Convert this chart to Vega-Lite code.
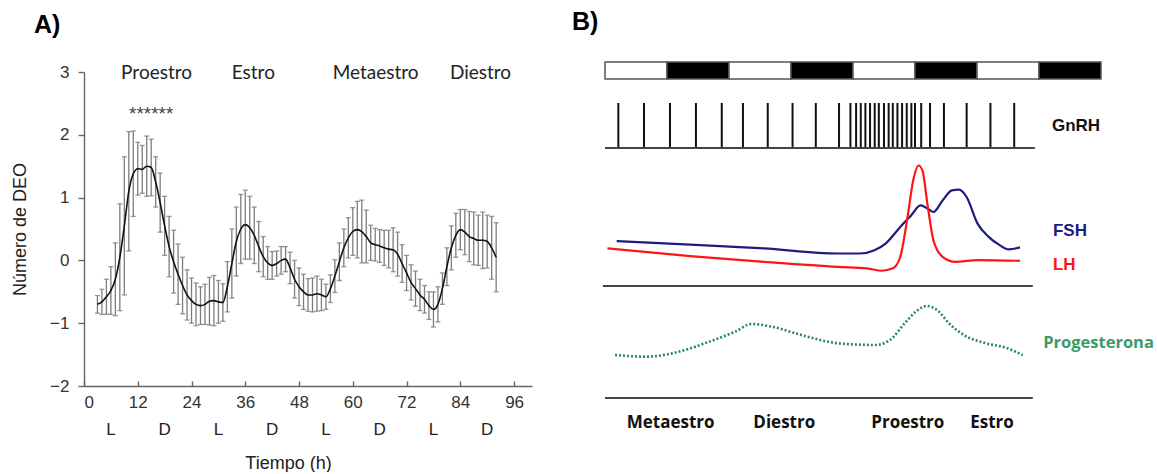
{
  "$schema": "https://vega.github.io/schema/vega-lite/v6.json",
  "background": "white",
  "padding": {"left": 11, "top": 10, "right": 0, "bottom": 0},
  "config": {
    "view": {"stroke": null},
    "font": "Liberation Sans",
    "title": {"font": "Liberation Sans", "fontSize": 25, "fontWeight": "bold", "color": "black"}
  },
  "datasets": {
    "deo": [
      {"h": 3, "media": -0.70, "ee": 0.14}, {"h": 4, "media": -0.66, "ee": 0.20}, {"h": 5, "media": -0.58, "ee": 0.28},
      {"h": 6, "media": -0.48, "ee": 0.38}, {"h": 7, "media": -0.30, "ee": 0.58}, {"h": 8, "media": 0.05, "ee": 0.85},
      {"h": 9, "media": 0.55, "ee": 1.10}, {"h": 10, "media": 1.10, "ee": 0.95}, {"h": 11, "media": 1.38, "ee": 0.68},
      {"h": 12, "media": 1.46, "ee": 0.42}, {"h": 13, "media": 1.45, "ee": 0.38}, {"h": 14, "media": 1.50, "ee": 0.48},
      {"h": 15, "media": 1.48, "ee": 0.45}, {"h": 16, "media": 1.25, "ee": 0.40}, {"h": 17, "media": 0.92, "ee": 0.47},
      {"h": 18, "media": 0.55, "ee": 0.47}, {"h": 19, "media": 0.22, "ee": 0.48}, {"h": 20, "media": -0.02, "ee": 0.50},
      {"h": 21, "media": -0.22, "ee": 0.48}, {"h": 22, "media": -0.40, "ee": 0.45}, {"h": 23, "media": -0.55, "ee": 0.40},
      {"h": 24, "media": -0.64, "ee": 0.36}, {"h": 25, "media": -0.70, "ee": 0.34}, {"h": 26, "media": -0.72, "ee": 0.30},
      {"h": 27, "media": -0.70, "ee": 0.32}, {"h": 28, "media": -0.65, "ee": 0.38}, {"h": 29, "media": -0.64, "ee": 0.40},
      {"h": 30, "media": -0.66, "ee": 0.34}, {"h": 31, "media": -0.67, "ee": 0.30}, {"h": 32, "media": -0.42, "ee": 0.40},
      {"h": 33, "media": -0.05, "ee": 0.55}, {"h": 34, "media": 0.30, "ee": 0.55}, {"h": 35, "media": 0.50, "ee": 0.55},
      {"h": 36, "media": 0.57, "ee": 0.55}, {"h": 37, "media": 0.52, "ee": 0.50}, {"h": 38, "media": 0.40, "ee": 0.45},
      {"h": 39, "media": 0.22, "ee": 0.40}, {"h": 40, "media": 0.06, "ee": 0.32}, {"h": 41, "media": -0.04, "ee": 0.26},
      {"h": 42, "media": -0.08, "ee": 0.22}, {"h": 43, "media": -0.05, "ee": 0.20}, {"h": 44, "media": 0.00, "ee": 0.22},
      {"h": 45, "media": 0.02, "ee": 0.20}, {"h": 46, "media": -0.12, "ee": 0.25}, {"h": 47, "media": -0.30, "ee": 0.30},
      {"h": 48, "media": -0.42, "ee": 0.30}, {"h": 49, "media": -0.50, "ee": 0.28}, {"h": 50, "media": -0.55, "ee": 0.26},
      {"h": 51, "media": -0.55, "ee": 0.27}, {"h": 52, "media": -0.53, "ee": 0.28}, {"h": 53, "media": -0.55, "ee": 0.25},
      {"h": 54, "media": -0.58, "ee": 0.20}, {"h": 55, "media": -0.45, "ee": 0.22}, {"h": 56, "media": -0.25, "ee": 0.26},
      {"h": 57, "media": -0.02, "ee": 0.30}, {"h": 58, "media": 0.20, "ee": 0.30}, {"h": 59, "media": 0.36, "ee": 0.32},
      {"h": 60, "media": 0.46, "ee": 0.38}, {"h": 61, "media": 0.49, "ee": 0.45}, {"h": 62, "media": 0.46, "ee": 0.50},
      {"h": 63, "media": 0.38, "ee": 0.42}, {"h": 64, "media": 0.28, "ee": 0.28}, {"h": 65, "media": 0.25, "ee": 0.26},
      {"h": 66, "media": 0.23, "ee": 0.26}, {"h": 67, "media": 0.20, "ee": 0.28}, {"h": 68, "media": 0.18, "ee": 0.30},
      {"h": 69, "media": 0.17, "ee": 0.35}, {"h": 70, "media": 0.10, "ee": 0.35}, {"h": 71, "media": -0.05, "ee": 0.30},
      {"h": 72, "media": -0.20, "ee": 0.28}, {"h": 73, "media": -0.35, "ee": 0.28}, {"h": 74, "media": -0.45, "ee": 0.28},
      {"h": 75, "media": -0.55, "ee": 0.25}, {"h": 76, "media": -0.62, "ee": 0.22}, {"h": 77, "media": -0.72, "ee": 0.22},
      {"h": 78, "media": -0.78, "ee": 0.28}, {"h": 79, "media": -0.70, "ee": 0.28}, {"h": 80, "media": -0.45, "ee": 0.25},
      {"h": 81, "media": -0.10, "ee": 0.30}, {"h": 82, "media": 0.20, "ee": 0.35}, {"h": 83, "media": 0.40, "ee": 0.35},
      {"h": 84, "media": 0.49, "ee": 0.32}, {"h": 85, "media": 0.45, "ee": 0.36}, {"h": 86, "media": 0.38, "ee": 0.40},
      {"h": 87, "media": 0.35, "ee": 0.42}, {"h": 88, "media": 0.32, "ee": 0.40}, {"h": 89, "media": 0.32, "ee": 0.45},
      {"h": 90, "media": 0.30, "ee": 0.42}, {"h": 91, "media": 0.20, "ee": 0.50}, {"h": 92, "media": 0.05, "ee": 0.55}
    ],
    "fasesA": [
      {"h": 16.2, "fase": "Proestro"}, {"h": 37.8, "fase": "Estro"},
      {"h": 65.1, "fase": "Metaestro"}, {"h": 88.5, "fase": "Diestro"}
    ],
    "luzA": [
      {"h": 6, "periodo": "L"}, {"h": 18, "periodo": "D"}, {"h": 30, "periodo": "L"}, {"h": 42, "periodo": "D"},
      {"h": 54, "periodo": "L"}, {"h": 66, "periodo": "D"}, {"h": 78, "periodo": "L"}, {"h": 90, "periodo": "D"}
    ],
    "signif": [{"h": 15, "marca": "******"}],
    "ciclo": [
      {"inicio": 0, "fin": 12, "fase": "luz"}, {"inicio": 12, "fin": 24, "fase": "oscuridad"},
      {"inicio": 24, "fin": 36, "fase": "luz"}, {"inicio": 36, "fin": 48, "fase": "oscuridad"},
      {"inicio": 48, "fin": 60, "fase": "luz"}, {"inicio": 60, "fin": 72, "fase": "oscuridad"},
      {"inicio": 72, "fin": 84, "fase": "luz"}, {"inicio": 84, "fin": 96, "fase": "oscuridad"}
    ],
    "gnrh": [
      {"h": 2.58}, {"h": 7.55}, {"h": 12.58}, {"h": 17.6}, {"h": 22.6}, {"h": 26.7}, {"h": 31.5}, {"h": 36.3},
      {"h": 40.8}, {"h": 45.3}, {"h": 47.5}, {"h": 48.6}, {"h": 49.5}, {"h": 50.4}, {"h": 51.3}, {"h": 52.2},
      {"h": 53.0}, {"h": 54.0}, {"h": 54.9}, {"h": 55.7}, {"h": 56.6}, {"h": 57.5}, {"h": 58.4}, {"h": 59.3},
      {"h": 60.0}, {"h": 61.2}, {"h": 62.9}, {"h": 65.6}, {"h": 70.0}, {"h": 74.6}, {"h": 79.2}
    ],
    "hormonas": [
      {"hormona": "FSH", "h": 2.26, "nivel": 0.356}, {"hormona": "FSH", "h": 16.53, "nivel": 0.329},
      {"hormona": "FSH", "h": 30.77, "nivel": 0.298}, {"hormona": "FSH", "h": 45.04, "nivel": 0.258},
      {"hormona": "FSH", "h": 49.31, "nivel": 0.258}, {"hormona": "FSH", "h": 52.16, "nivel": 0.284},
      {"hormona": "FSH", "h": 54.31, "nivel": 0.337}, {"hormona": "FSH", "h": 57.15, "nivel": 0.469},
      {"hormona": "FSH", "h": 59.28, "nivel": 0.561}, {"hormona": "FSH", "h": 61.06, "nivel": 0.640},
      {"hormona": "FSH", "h": 62.49, "nivel": 0.613}, {"hormona": "FSH", "h": 63.56, "nivel": 0.587},
      {"hormona": "FSH", "h": 65.34, "nivel": 0.679}, {"hormona": "FSH", "h": 67.14, "nivel": 0.759},
      {"hormona": "FSH", "h": 68.55, "nivel": 0.764}, {"hormona": "FSH", "h": 69.98, "nivel": 0.706},
      {"hormona": "FSH", "h": 72.11, "nivel": 0.495}, {"hormona": "FSH", "h": 74.26, "nivel": 0.390},
      {"hormona": "FSH", "h": 76.39, "nivel": 0.324}, {"hormona": "FSH", "h": 78.17, "nivel": 0.290},
      {"hormona": "FSH", "h": 80.32, "nivel": 0.306},
      {"hormona": "LH", "h": 0.48, "nivel": 0.298}, {"hormona": "LH", "h": 16.53, "nivel": 0.237},
      {"hormona": "LH", "h": 30.77, "nivel": 0.192}, {"hormona": "LH", "h": 45.04, "nivel": 0.152},
      {"hormona": "LH", "h": 50.73, "nivel": 0.140}, {"hormona": "LH", "h": 53.59, "nivel": 0.121},
      {"hormona": "LH", "h": 55.72, "nivel": 0.140}, {"hormona": "LH", "h": 57.15, "nivel": 0.232},
      {"hormona": "LH", "h": 58.56, "nivel": 0.548}, {"hormona": "LH", "h": 59.65, "nivel": 0.838},
      {"hormona": "LH", "h": 60.71, "nivel": 0.956}, {"hormona": "LH", "h": 61.43, "nivel": 0.917},
      {"hormona": "LH", "h": 62.49, "nivel": 0.627}, {"hormona": "LH", "h": 63.56, "nivel": 0.363},
      {"hormona": "LH", "h": 65.34, "nivel": 0.232}, {"hormona": "LH", "h": 67.83, "nivel": 0.192},
      {"hormona": "LH", "h": 72.11, "nivel": 0.206}, {"hormona": "LH", "h": 80.32, "nivel": 0.200}
    ],
    "progesterona": [
      {"h": 1.95, "nivel": 0.43}, {"h": 8.01, "nivel": 0.413}, {"h": 13.03, "nivel": 0.447},
      {"h": 20.17, "nivel": 0.563}, {"h": 25.16, "nivel": 0.663}, {"h": 28.37, "nivel": 0.74},
      {"h": 32.30, "nivel": 0.713}, {"h": 38.01, "nivel": 0.63}, {"h": 45.15, "nivel": 0.547},
      {"h": 52.29, "nivel": 0.53}, {"h": 55.16, "nivel": 0.58}, {"h": 58.00, "nivel": 0.747},
      {"h": 60.15, "nivel": 0.863}, {"h": 62.30, "nivel": 0.92}, {"h": 64.43, "nivel": 0.873},
      {"h": 66.58, "nivel": 0.747}, {"h": 69.44, "nivel": 0.63}, {"h": 73.72, "nivel": 0.547},
      {"h": 77.30, "nivel": 0.507}, {"h": 80.86, "nivel": 0.43}
    ],
    "fasesB": [
      {"h": 12.7, "fase": "Metaestro"}, {"h": 34.7, "fase": "Diestro"},
      {"h": 58.6, "fase": "Proestro"}, {"h": 74.9, "fase": "Estro"}
    ]
  },
  "hconcat": [
    {
      "title": {"text": "A)", "anchor": "start", "frame": "group", "dx": -50, "offset": 24},
      "spacing": 0,
      "bounds": "flush",
      "vconcat": [
        {"width": 448, "height": 10, "data": {"values": []}, "mark": "point"},
        {
          "width": 448,
          "height": 314,
          "layer": [
            {
              "data": {"name": "deo"},
              "mark": {"type": "errorbar", "color": "#7d7d7d", "thickness": 1.3, "ticks": {"size": 5, "thickness": 1.3, "color": "#6d6d6d"}},
              "encoding": {
                "x": {
                  "field": "h", "type": "quantitative",
                  "scale": {"domain": [0, 100], "nice": false, "zero": false},
                  "axis": {
                    "values": [0, 12, 24, 36, 48, 60, 72, 84, 96], "grid": false, "format": "d",
                    "title": "Tiempo (h)", "titleFontSize": 18, "titleFontWeight": "normal", "titleColor": "#222",
                    "titleX": 204, "titleY": 77, "titleBaseline": "middle",
                    "labelFontSize": 17, "labelColor": "#333", "labelPadding": 13,
                    "tickSize": -5, "tickColor": "#666", "tickWidth": 1.4,
                    "domainColor": "#666", "domainWidth": 1.4
                  }
                },
                "y": {
                  "field": "media", "type": "quantitative",
                  "scale": {"domain": [-2, 3], "nice": false, "zero": false},
                  "axis": {
                    "values": [-2, -1, 0, 1, 2, 3], "grid": false, "format": "d",
                    "title": "Número de DEO", "titleFontSize": 18, "titleFontWeight": "normal", "titleColor": "#222", "titlePadding": 20,
                    "labelFontSize": 17, "labelColor": "#333", "labelPadding": 9,
                    "tickSize": 6, "tickColor": "#666", "tickWidth": 1.4,
                    "domainColor": "#666", "domainWidth": 1.4
                  }
                },
                "yError": {"field": "ee"}
              }
            },
            {
              "data": {"name": "deo"},
              "mark": {"type": "line", "color": "#111", "strokeWidth": 1.6, "interpolate": "monotone"},
              "encoding": {
                "x": {"field": "h", "type": "quantitative"},
                "y": {"field": "media", "type": "quantitative"}
              }
            },
            {
              "data": {"name": "fasesA"},
              "mark": {"type": "text", "font": "Lato", "fontSize": 19, "color": "#222", "baseline": "middle"},
              "encoding": {
                "x": {"field": "h", "type": "quantitative"},
                "y": {"datum": 2.98},
                "text": {"field": "fase"}
              }
            },
            {
              "data": {"name": "signif"},
              "mark": {"type": "text", "fontSize": 19, "color": "#444", "baseline": "middle"},
              "encoding": {
                "x": {"field": "h", "type": "quantitative"},
                "y": {"datum": 2.33},
                "text": {"field": "marca"}
              }
            },
            {
              "data": {"name": "luzA"},
              "mark": {"type": "text", "fontSize": 17, "color": "#222", "baseline": "middle"},
              "encoding": {
                "x": {"field": "h", "type": "quantitative"},
                "y": {"datum": -2.7},
                "text": {"field": "periodo"}
              }
            }
          ]
        }
      ]
    },
    {
      "title": {"text": "B)", "anchor": "start", "frame": "group", "dx": -33, "offset": 26},
      "spacing": 0,
      "bounds": "flush",
      "resolve": {"scale": {"color": "independent"}},
      "vconcat": [
        {
          "width": 496,
          "height": 17,
          "data": {"name": "ciclo"},
          "mark": {"type": "rect", "stroke": "#555", "strokeWidth": 1.5},
          "encoding": {
            "x": {"field": "inicio", "type": "quantitative", "scale": {"domain": [0, 96], "nice": false, "zero": false}, "axis": null},
            "x2": {"field": "fin"},
            "color": {"field": "fase", "type": "nominal", "scale": {"domain": ["luz", "oscuridad"], "range": ["white", "black"]}, "legend": null}
          }
        },
        {
          "width": 496,
          "height": 69,
          "layer": [
            {
              "data": {"name": "gnrh"},
              "mark": {"type": "rule", "color": "#111", "strokeWidth": 2},
              "encoding": {
                "x": {"field": "h", "type": "quantitative", "scale": {"domain": [0, 96], "nice": false, "zero": false}, "axis": null},
                "y": {"datum": 0, "type": "quantitative", "scale": {"domain": [0, 1.533], "nice": false}, "axis": null},
                "y2": {"datum": 1}
              }
            },
            {
              "data": {"values": [{"inicio": 0, "fin": 83.2}]},
              "mark": {"type": "rule", "color": "#444", "strokeWidth": 2},
              "encoding": {
                "x": {"field": "inicio", "type": "quantitative"},
                "x2": {"field": "fin"},
                "y": {"datum": 0, "type": "quantitative"}
              }
            },
            {
              "data": {"values": [{"etiqueta": "GnRH"}]},
              "mark": {"type": "text", "fontSize": 17, "fontWeight": "bold", "color": "#111", "align": "left", "baseline": "middle"},
              "encoding": {
                "x": {"datum": 86.5, "type": "quantitative"},
                "y": {"datum": 0.49, "type": "quantitative"},
                "text": {"field": "etiqueta"}
              }
            }
          ]
        },
        {
          "width": 496,
          "height": 138,
          "layer": [
            {
              "data": {"name": "hormonas"},
              "mark": {"type": "line", "strokeWidth": 2.2, "interpolate": "monotone"},
              "encoding": {
                "x": {"field": "h", "type": "quantitative", "scale": {"domain": [0, 96], "nice": false, "zero": false}, "axis": null},
                "y": {"field": "nivel", "type": "quantitative", "scale": {"domain": [0, 1.095], "nice": false}, "axis": null},
                "color": {"field": "hormona", "type": "nominal", "scale": {"domain": ["FSH", "LH"], "range": ["#1b1b80", "#ff1414"]}, "legend": null}
              }
            },
            {
              "data": {"values": [{"inicio": -0.4, "fin": 82.8}]},
              "mark": {"type": "rule", "color": "#444", "strokeWidth": 2},
              "encoding": {
                "x": {"field": "inicio", "type": "quantitative"},
                "x2": {"field": "fin"},
                "y": {"datum": 0, "type": "quantitative"}
              }
            },
            {
              "data": {"values": [{"hormona": "FSH"}]},
              "mark": {"type": "text", "fontSize": 17, "fontWeight": "bold", "align": "left", "baseline": "middle"},
              "encoding": {
                "x": {"datum": 86.7, "type": "quantitative"},
                "y": {"datum": 0.435, "type": "quantitative"},
                "text": {"field": "hormona"},
                "color": {"field": "hormona", "type": "nominal"}
              }
            },
            {
              "data": {"values": [{"hormona": "LH"}]},
              "mark": {"type": "text", "fontSize": 17, "fontWeight": "bold", "align": "left", "baseline": "middle"},
              "encoding": {
                "x": {"datum": 86.7, "type": "quantitative"},
                "y": {"datum": 0.17, "type": "quantitative"},
                "text": {"field": "hormona"},
                "color": {"field": "hormona", "type": "nominal"}
              }
            }
          ]
        },
        {
          "width": 496,
          "height": 112,
          "layer": [
            {
              "data": {"name": "progesterona"},
              "mark": {"type": "line", "color": "#2a8a58", "strokeWidth": 2.6, "strokeDash": [2, 2], "interpolate": "monotone"},
              "encoding": {
                "x": {"field": "h", "type": "quantitative", "scale": {"domain": [0, 96], "nice": false, "zero": false}, "axis": null},
                "y": {"field": "nivel", "type": "quantitative", "scale": {"domain": [0, 1.12], "nice": false}, "axis": null}
              }
            },
            {
              "data": {"values": [{"inicio": 0, "fin": 82.8}]},
              "mark": {"type": "rule", "color": "#444", "strokeWidth": 2},
              "encoding": {
                "x": {"field": "inicio", "type": "quantitative"},
                "x2": {"field": "fin"},
                "y": {"datum": 0, "type": "quantitative"}
              }
            },
            {
              "data": {"values": [{"etiqueta": "Progesterona"}]},
              "mark": {"type": "text", "font": "Open Sans", "fontSize": 16.5, "fontWeight": "bold", "color": "#3a9a6a", "align": "left", "baseline": "middle"},
              "encoding": {
                "x": {"datum": 84.8, "type": "quantitative"},
                "y": {"datum": 0.55, "type": "quantitative"},
                "text": {"field": "etiqueta"}
              }
            }
          ]
        },
        {
          "width": 496,
          "height": 35,
          "data": {"name": "fasesB"},
          "mark": {"type": "text", "font": "Open Sans", "fontSize": 17, "fontWeight": "bold", "color": "#111", "baseline": "middle"},
          "encoding": {
            "x": {"field": "h", "type": "quantitative", "scale": {"domain": [0, 96], "nice": false, "zero": false}, "axis": null},
            "y": {"datum": 0.286, "type": "quantitative", "scale": {"domain": [0, 1], "nice": false}, "axis": null},
            "text": {"field": "fase"}
          }
        }
      ]
    }
  ],
  "spacing": 40
}
